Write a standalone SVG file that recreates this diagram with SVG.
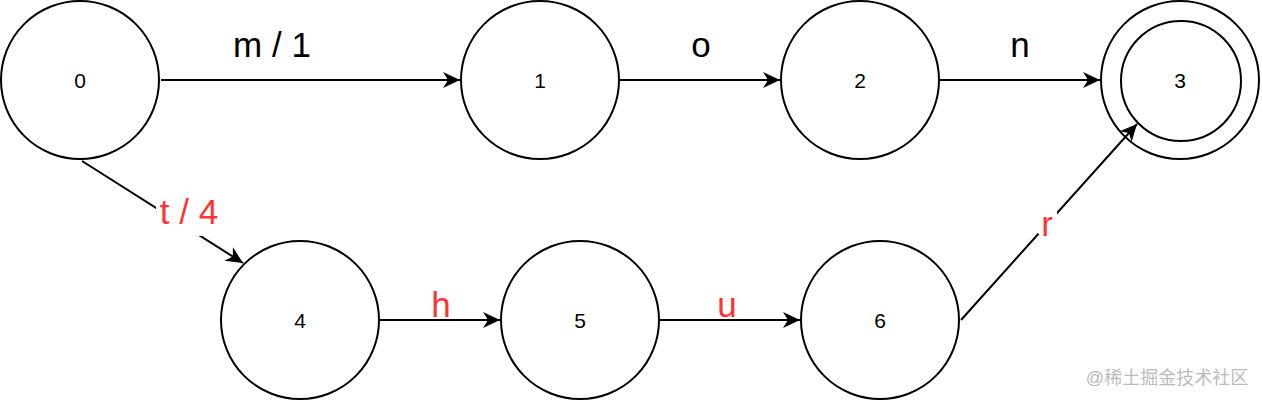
<svg xmlns="http://www.w3.org/2000/svg" width="1262" height="402" viewBox="0 0 1262 402">
<defs>
<marker id="arr" markerUnits="userSpaceOnUse" markerWidth="20" markerHeight="20" viewBox="-18 -10 20 20" refX="0" refY="0" orient="auto">
<path d="M-17,-8 L0,0 L-17,8 L-12,0 Z" fill="#000"/>
</marker>
<style>
.n{fill:#fff;stroke:#000;stroke-width:2}
.t{font-family:"Liberation Sans",Arial,sans-serif;font-size:21px;text-anchor:middle;fill:#000}
.e{stroke:#000;stroke-width:2;fill:none}
.l{font-family:"Liberation Sans",Arial,sans-serif;font-size:35px;text-anchor:middle;fill:#000}
.r{fill:#ff3333}
.bg{fill:#fff}
</style>
</defs>
<rect width="1262" height="402" fill="#fff"/>
<g id="node0"><circle class="n" cx="80" cy="80" r="79"/><text class="t" x="80" y="88">0</text></g>
<g id="node1"><circle class="n" cx="540" cy="80" r="79"/><text class="t" x="540" y="88">1</text></g>
<g id="node2"><circle class="n" cx="860" cy="80" r="79"/><text class="t" x="860" y="88">2</text></g>
<g id="node3"><circle class="n" cx="1180" cy="80" r="79"/><circle class="n" cx="1181" cy="81" r="60"/><text class="t" x="1180" y="88">3</text></g>
<g id="node4"><circle class="n" cx="300" cy="320" r="79"/><text class="t" x="300" y="328">4</text></g>
<g id="node5"><circle class="n" cx="580" cy="320" r="79"/><text class="t" x="580" y="328">5</text></g>
<g id="node6"><circle class="n" cx="880" cy="320" r="79"/><text class="t" x="880" y="328">6</text></g>
<g id="connectors">
<line class="e" x1="161" y1="80" x2="460" y2="80" marker-end="url(#arr)"/>
<line class="e" x1="620" y1="80" x2="780" y2="80" marker-end="url(#arr)"/>
<line class="e" x1="940" y1="80" x2="1100" y2="80" marker-end="url(#arr)"/>
<line class="e" x1="82" y1="161" x2="243" y2="263" marker-end="url(#arr)"/>
<line class="e" x1="380" y1="320" x2="500" y2="320" marker-end="url(#arr)"/>
<line class="e" x1="660" y1="320" x2="800" y2="320" marker-end="url(#arr)"/>
<line class="e" x1="961" y1="320" x2="1137" y2="124" marker-end="url(#arr)"/>
<text class="l" x="272" y="57">m / 1</text>
<text class="l" x="701" y="57">o</text>
<text class="l" x="1020" y="57">n</text>
<rect class="bg" x="156" y="190" width="67" height="46"/>
<text class="l r" x="189" y="224">t / 4</text>
<rect class="bg" x="430" y="300" width="22" height="19"/>
<text class="l r" x="441" y="317">h</text>
<rect class="bg" x="716" y="300" width="22" height="19"/>
<text class="l r" x="727" y="317">u</text>
<rect class="bg" x="1038" y="204" width="19" height="30"/>
<text class="l r" x="1047" y="236">r</text>
</g>
<text x="1167" y="384" font-family="'Liberation Sans','Noto Sans CJK SC',sans-serif" font-size="18" fill="#bbbbbb" text-anchor="middle">@稀土掘金技术社区</text>
</svg>
